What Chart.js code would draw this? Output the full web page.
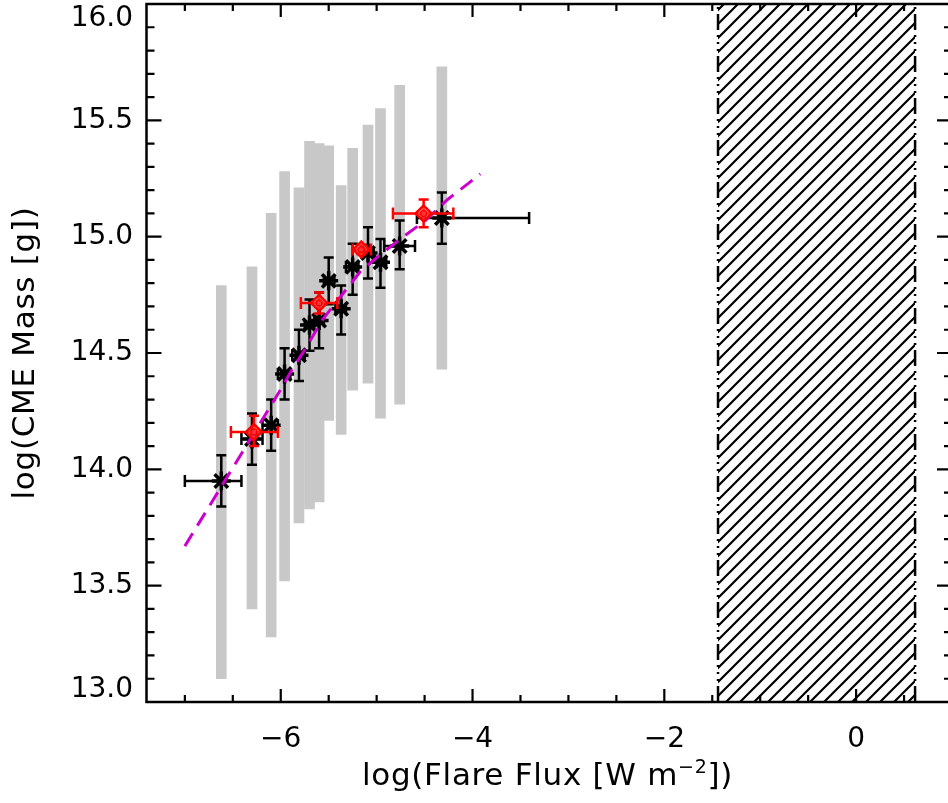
<!DOCTYPE html>
<html><head><meta charset="utf-8">
<script src="https://cdn.jsdelivr.net/npm/chart.js@4/dist/chart.umd.min.js"></script>
<style>
html,body{margin:0;padding:0;overflow:hidden;background:#fff;width:948px;height:803px}
#wrap{width:960px;height:803px;position:relative}
</style>
</head><body><div id="wrap"><canvas id="c" width="960" height="803"></canvas></div>
<script>
// ---- data ----
const pointX   = [-6.62,-6.30,-6.10,-5.96,-5.81,-5.70,-5.60,-5.50,-5.37,-5.25,-5.09,-4.96,-4.76,-4.32];
const pointY   = [13.95,14.13,14.19,14.41,14.49,14.62,14.64,14.81,14.69,14.87,14.93,14.89,14.96,15.08];
const pointXlo = [-7.00,-6.41,-6.19,-6.03,-5.88,-5.75,-5.65,-5.55,-5.43,-5.32,-5.15,-5.00,-4.92,-4.58];
const pointXhi = [-6.41,-6.19,-6.03,-5.90,-5.75,-5.65,-5.55,-5.44,-5.32,-5.19,-5.03,-4.90,-4.60,-3.41];
const pointYlo = [13.84,14.02,14.08,14.30,14.38,14.51,14.52,14.71,14.58,14.75,14.82,14.78,14.86,14.97];
const pointYhi = [14.06,14.24,14.30,14.52,14.60,14.73,14.76,14.91,14.79,14.97,15.04,14.99,15.07,15.19];
const rangeLo  = [13.10,13.40,13.28,13.52,13.77,13.83,13.86,14.21,14.15,14.34,14.37,14.22,14.28,14.43];
const rangeHi  = [14.79,14.87,15.10,15.28,15.21,15.41,15.40,15.39,15.22,15.38,15.48,15.55,15.65,15.73];
const redX   = [-6.28,-5.60,-5.16,-4.51];
const redY   = [14.16,14.715,14.945,15.10];
const redXlo = [-6.52,-5.79,-5.25,-4.83];
const redXhi = [-6.03,-5.41,-5.06,-4.20];
const redYlo = [14.10,14.67,14.925,15.04];
const redYhi = [14.23,14.76,14.965,15.16];
const fitX = [-7.00,-6.02,-5.88,-5.74,-5.57,-5.40,-5.17,-4.94,-4.72,-4.49,-4.26,-4.04,-3.92];
const fitY = [13.67,14.33,14.43,14.52,14.64,14.73,14.85,14.93,15.00,15.07,15.16,15.23,15.27];
const hatchX = [-1.44,0.615];
const hatchY = [13.0,16.0];
const xMajor = [-6,-4,-2,0];
const xMajorLabels = ['\u22126','\u22124','\u22122','0'];
const yMajor = [13.0,13.5,14.0,14.5,15.0,15.5,16.0];
const yMajorLabels = ['13.0','13.5','14.0','14.5','15.0','15.5','16.0'];
const xRange = [-7.4,1.0];
const yRange = [13.0,16.0];

// hatch pattern
const tile = document.createElement('canvas'); tile.width = 14; tile.height = 14;
const tc = tile.getContext('2d');
tc.strokeStyle = '#000'; tc.lineWidth = 2.2;
tc.beginPath(); tc.moveTo(-2,16); tc.lineTo(16,-2); tc.moveTo(-2,2); tc.lineTo(2,-2); tc.moveTo(12,16); tc.lineTo(16,12); tc.stroke();
const hatchPattern = tc.createPattern(tile,'repeat');

function zip(xs,ys){return xs.map((v,i)=>({x:v,y:ys[i]}));}

function drawErr(chart, xs, ys, xlo, xhi, ylo, yhi, color){
  const {ctx, scales:{x, y}} = chart;
  ctx.save(); ctx.strokeStyle = color; ctx.lineWidth = 2.5; ctx.lineCap = 'butt';
  const cap = 5;
  for (let i=0;i<xs.length;i++){
    const px = x.getPixelForValue(xs[i]), py = y.getPixelForValue(ys[i]);
    const l = x.getPixelForValue(xlo[i]), r = x.getPixelForValue(xhi[i]);
    const t = y.getPixelForValue(yhi[i]), b = y.getPixelForValue(ylo[i]);
    ctx.beginPath();
    ctx.moveTo(l,py); ctx.lineTo(r,py);
    ctx.moveTo(l,py-cap-1); ctx.lineTo(l,py+cap+1);
    ctx.moveTo(r,py-cap-1); ctx.lineTo(r,py+cap+1);
    ctx.moveTo(px,t); ctx.lineTo(px,b);
    ctx.moveTo(px-cap,t); ctx.lineTo(px+cap,t);
    ctx.moveTo(px-cap,b); ctx.lineTo(px+cap,b);
    ctx.stroke();
  }
  ctx.restore();
}

const FONT = '"DejaVu Sans", sans-serif';

const errPlugin = {
  id:'errbars',
  beforeDatasetDraw(chart, args){
    const lbl = chart.data.datasets[args.index].label;
    if (lbl === 'black') drawErr(chart, pointX, pointY, pointXlo, pointXhi, pointYlo, pointYhi, '#000');
    if (lbl === 'red') drawErr(chart, redX, redY, redXlo, redXhi, redYlo, redYhi, '#ff0000');
  }
};

const framePlugin = {
  id:'frame',
  afterDraw(chart){
    const {ctx, chartArea:a, scales:{x, y}} = chart;
    ctx.save();
    ctx.strokeStyle = '#000'; ctx.lineWidth = 2.5;
    ctx.strokeRect(a.left, a.top, a.right-a.left, a.bottom-a.top);
    ctx.lineWidth = 2.2;
    ctx.beginPath();
    for (let v=-7; v<=1.001; v+=0.5){
      const major = xMajor.some(m=>Math.abs(m-v)<1e-6);
      const len = major ? 13 : 7;
      const px = x.getPixelForValue(v);
      ctx.moveTo(px,a.bottom); ctx.lineTo(px,a.bottom-len);
      ctx.moveTo(px,a.top); ctx.lineTo(px,a.top+len);
    }
    for (let k=0; k<=30; k++){
      const v = 13 + k*0.1;
      const major = k%5===0;
      const len = major ? 15 : 8;
      const py = y.getPixelForValue(v);
      ctx.moveTo(a.left,py); ctx.lineTo(a.left+len,py);
      ctx.moveTo(a.right,py); ctx.lineTo(a.right-len,py);
    }
    ctx.stroke();
    // tick labels
    ctx.fillStyle = '#000';
    ctx.font = '28px ' + FONT;
    ctx.textAlign = 'center'; ctx.textBaseline = 'middle';
    xMajor.forEach((v,i)=>{ ctx.fillText(xMajorLabels[i], x.getPixelForValue(v), 740); });
    ctx.textAlign = 'right';
    yMajor.forEach((v,i)=>{
      let py = y.getPixelForValue(v);
      py = Math.min(Math.max(py, 19), 690);
      ctx.fillText(yMajorLabels[i], 133, py);
    });
    // x title with superscript
    try { ctx.letterSpacing = '0.7px'; } catch(e) {}
    const big = '31px ' + FONT, small = '19px ' + FONT;
    const p1 = 'log(Flare Flux [W m', p2 = '\u22122', p3 = '])';
    ctx.font = big; const w1 = ctx.measureText(p1).width, w3 = ctx.measureText(p3).width;
    ctx.font = small; const w2 = ctx.measureText(p2).width;
    const total = w1+w2+w3;
    let sx = 547.5 - total/2;
    const base = 785;
    ctx.textAlign = 'left'; ctx.textBaseline = 'alphabetic';
    ctx.font = big; ctx.fillText(p1, sx, base);
    ctx.font = small; ctx.fillText(p2, sx+w1, base-12);
    ctx.font = big; ctx.fillText(p3, sx+w1+w2, base);
    // y title
    ctx.translate(34, 353);
    ctx.rotate(-Math.PI/2);
    ctx.textAlign = 'center';
    ctx.font = big;
    ctx.fillText('log(CME Mass [g])', 0, 0);
    ctx.restore();
  }
};

const dashDot = [16,5,2,5,2,5,2,5];

const chart = new Chart(document.getElementById('c'), {
  data: {
    datasets: [
      { type:'line', label:'hatch', data: zip(hatchX,[hatchY[1],hatchY[1]]), borderWidth:0, pointRadius:0,
        fill:{value:hatchY[0]}, backgroundColor: hatchPattern, order:10 },
      { type:'line', label:'hatchL', data: zip([hatchX[0],hatchX[0]],hatchY), borderColor:'#000', borderWidth:2.5,
        borderDash:dashDot, pointRadius:0, fill:false, order:9 },
      { type:'line', label:'hatchR', data: zip([hatchX[1],hatchX[1]],hatchY), borderColor:'#000', borderWidth:2.5,
        borderDash:dashDot, pointRadius:0, fill:false, order:9 },
      { type:'bar', label:'range', data: pointX.map((v,i)=>({x:v, y:[rangeLo[i], rangeHi[i]]})),
        backgroundColor:'#c8c8c8', borderWidth:0, barThickness:10, order:8 },
      { type:'scatter', label:'black', data: zip(pointX,pointY), pointStyle:'star', pointRadius:9.5,
        borderColor:'#000', backgroundColor:'#000', borderWidth:3.5, order:7 },
      { type:'line', label:'fit', data: zip(fitX,fitY), borderColor:'#cc00cc', borderWidth:3,
        borderDash:[15,9], pointRadius:0, fill:false, order:6 },
      { type:'scatter', label:'red', data: zip(redX,redY), pointStyle:'rectRot', pointRadius:8,
        borderColor:'#ff0000', backgroundColor:'rgba(255,90,90,0.55)', borderWidth:2.5, order:5 },
      { type:'scatter', label:'redc', data: zip(redX,redY), pointStyle:'circle', pointRadius:3,
        borderColor:'#ff0000', backgroundColor:'rgba(0,0,0,0)', borderWidth:1.5, order:4 }
    ]
  },
  options: {
    responsive:false, animation:false, devicePixelRatio:1,
    layout:{ autoPadding:false, padding:{ left:146.5, right:8, top:4, bottom:101 } },
    scales:{
      x:{ type:'linear', min:xRange[0], max:xRange[1], display:false, offset:false },
      y:{ type:'linear', min:yRange[0], max:yRange[1], display:false }
    },
    plugins:{ legend:{display:false}, tooltip:{enabled:false} },
    elements:{ line:{ tension:0 } }
  },
  plugins:[errPlugin, framePlugin]
});
</script>
</body></html>
